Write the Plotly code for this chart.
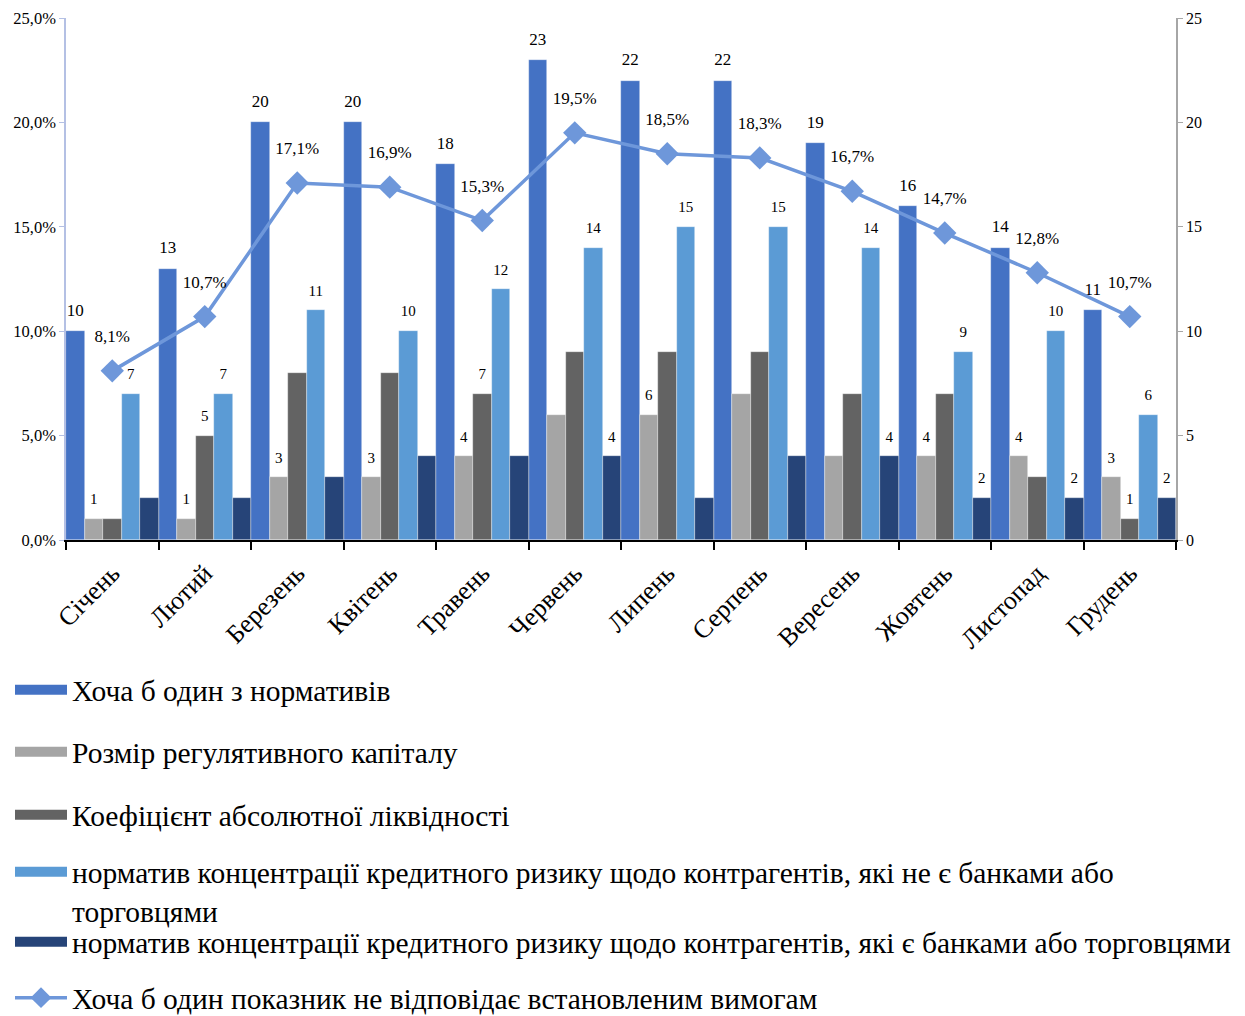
import plotly.graph_objects as go

months = ["Січень", "Лютий", "Березень", "Квітень", "Травень", "Червень",
          "Липень", "Серпень", "Вересень", "Жовтень", "Листопад", "Грудень"]

names = [
    "Хоча б один з нормативів",
    "Розмір регулятивного капіталу",
    "Коефіцієнт абсолютної ліквідності",
    "норматив концентрації кредитного ризику щодо контрагентів, які не є банками або<br>торговцями",
    "норматив концентрації кредитного ризику щодо контрагентів, які є банками або торговцями",
]
line_name = "Хоча б один показник не відповідає встановленим вимогам"

s1 = [10, 13, 20, 20, 18, 23, 22, 22, 19, 16, 14, 11]
s2 = [1, 1, 3, 3, 4, 6, 6, 7, 4, 4, 4, 3]
s3 = [1, 5, 8, 8, 7, 9, 9, 9, 7, 7, 3, 1]
s4 = [7, 7, 11, 10, 12, 14, 15, 15, 14, 9, 10, 6]
s5 = [2, 2, 3, 4, 4, 4, 2, 4, 4, 2, 2, 2]
pct = [8.1, 10.7, 17.1, 16.9, 15.3, 19.5, 18.5, 18.3, 16.7, 14.7, 12.8, 10.7]

# which data labels are visible in the original
show1 = [1] * 12
show2 = [1, 1, 1, 1, 1, 0, 1, 0, 0, 1, 1, 1]
show3 = [0, 1, 0, 0, 1, 0, 0, 0, 0, 0, 0, 1]
show4 = [1] * 12
show5 = [0, 0, 0, 0, 0, 1, 0, 0, 1, 1, 1, 1]

colors = ["#4472C4", "#A5A5A5", "#636363", "#5B9BD5", "#264478"]
line_color = "#6E97DA"
FONT = "Liberation Serif"

series = [s1, s2, s3, s4, s5]
shows = [show1, show2, show3, show4, show5]
lab_sizes = [17, 15, 15, 15, 15]

fig = go.Figure()
for k, (vals, nm, col) in enumerate(zip(series, names, colors)):
    fig.add_trace(go.Bar(
        x=months, y=vals, name=nm, offsetgroup=str(k), alignmentgroup="bars",
        marker=dict(color=col, line=dict(width=0.6, color="rgba(255,255,255,0.6)")),
        showlegend=False, yaxis="y", hoverinfo="x+y",
    ))
# data labels for bars (grouped like the bars)
for k, (vals, sh, fs) in enumerate(zip(series, shows, lab_sizes)):
    fig.add_trace(go.Scatter(
        x=months, y=vals, mode="markers+text", offsetgroup=str(k), alignmentgroup="bars",
        text=[str(v) if s else "" for v, s in zip(vals, sh)],
        textposition="top center", cliponaxis=False,
        marker=dict(size=16, color="rgba(0,0,0,0)"),
        textfont=dict(family=FONT, size=fs, color="black"),
        showlegend=False, yaxis="y", hoverinfo="skip",
    ))

pct_frac = [p / 100 for p in pct]
pct_text = [f"{p:.1f}%".replace(".", ",") for p in pct]

fig.add_trace(go.Scatter(
    x=months, y=pct_frac, name=line_name, mode="lines+markers",
    offsetgroup="pct", alignmentgroup="line",
    line=dict(color=line_color, width=3.5),
    marker=dict(symbol="diamond", size=18, color=line_color),
    yaxis="y2", showlegend=True, legend="legend6",
))
fig.add_trace(go.Scatter(
    x=months, y=pct_frac, mode="markers+text", text=pct_text,
    offsetgroup="pct", alignmentgroup="line",
    textposition="top center", marker=dict(size=38, color="rgba(0,0,0,0)"),
    textfont=dict(family=FONT, size=17, color="black"),
    yaxis="y2", showlegend=False, hoverinfo="skip", cliponaxis=False,
))

# legend entries for bar series (wide rectangle symbols)
legend_ids = ["legend", "legend2", "legend3", "legend4", "legend5"]
for nm, col, lid in zip(names, colors, legend_ids):
    fig.add_trace(go.Scatter(
        x=[None], y=[None], mode="lines", name=nm,
        line=dict(color=col, width=15), legend=lid, showlegend=True,
    ))

# page offset (browser body margin)
OX, OY = 7, 8
W, H = 1238, 1008
L = 65 - OX
R = W - (1175 - OX)
T = 18 - OY
B = H - (540 - OY)
pw, ph = W - L - R, H - T - B

def px_to_paper_x(px):
    return (px - OX - L) / pw

def px_to_paper_y(py):
    return (H - B - (py - OY)) / ph

leg_centers = [690, 752, 815, 874, 942, 998]
leg_common = dict(xref="paper", yref="paper", x=px_to_paper_x(9), xanchor="left",
                  yanchor="middle", font=dict(family=FONT, size=29.5, color="black"),
                  itemwidth=52, bgcolor="rgba(0,0,0,0)", borderwidth=0)
layout_leg = {}
for i, yc in enumerate(leg_centers):
    key = "legend" if i == 0 else f"legend{i+1}"
    d = dict(leg_common)
    d["y"] = px_to_paper_y(yc)
    if i == 3:
        d["valign"] = "top"
        d["yanchor"] = "top"
        d["y"] = px_to_paper_y(yc - 28)
    layout_leg[key] = d

fig.update_layout(
    width=W, height=H, autosize=False,
    margin=dict(l=L, r=R, t=T, b=B, autoexpand=False),
    paper_bgcolor="white", plot_bgcolor="white",
    barmode="group", bargap=0, bargroupgap=0,
    scattermode="group", scattergap=0,
    separators=", ",
    font=dict(family=FONT, color="black"),
    xaxis=dict(
        type="category", showline=True, linecolor="black", linewidth=1.5,
        ticks="outside", tickson="boundaries", ticklen=8, tickcolor="black", tickwidth=1.5,
        tickangle=-45, tickfont=dict(family=FONT, size=26, color="black"),
        ticklabelstandoff=6, showgrid=False,
    ),
    yaxis=dict(
        range=[0, 25], dtick=5, side="right", showline=True, linecolor="#A6A6A6",
        linewidth=1.5, ticks="outside", ticklen=5, tickcolor="#A6A6A6",
        tickfont=dict(family=FONT, size=16, color="black"), showgrid=False, zeroline=False,
    ),
    yaxis2=dict(
        range=[0, 0.25], dtick=0.05, tickformat=".1%", side="left", overlaying="y",
        showline=True, linecolor="#B4C0E4", linewidth=1.5, ticks="outside", ticklen=5,
        tickcolor="#B4C0E4", tickfont=dict(family=FONT, size=16.5, color="black"),
        showgrid=False, zeroline=False,
    ),
    **layout_leg,
)

fig.write_html("out.html")
